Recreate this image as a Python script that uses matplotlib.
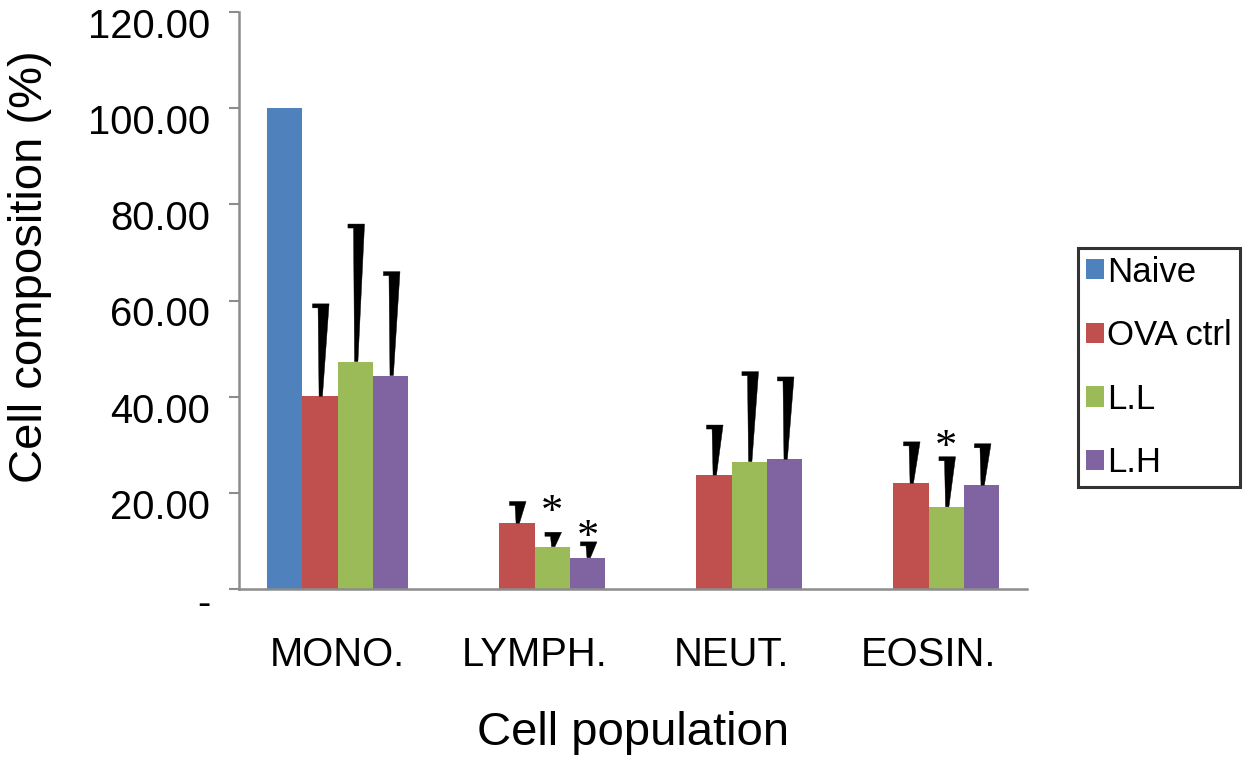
import matplotlib
matplotlib.use('Agg')
import matplotlib.pyplot as plt
from matplotlib.patches import Polygon
from matplotlib.transforms import ScaledTranslation, offset_copy
import numpy as np

# --- data ---
categories = ['MONO.', 'LYMPH.', 'NEUT.', 'EOSIN.']
groups = ['Naive', 'OVA ctrl', 'L.L', 'L.H']
colors = ['#4F81BD', '#C0504D', '#9BBB59', '#8064A2']

naive = [100.0, 0.0, 0.0, 0.0]
ova_ctrl = [40.1, 13.7, 23.7, 22.0]
ll = [47.3, 8.8, 26.5, 17.1]
lh = [44.4, 6.5, 27.0, 21.6]

naive_err = [0.0, 0.0, 0.0, 0.0]
ova_ctrl_err = [19.2, 4.5, 10.4, 8.6]
ll_err = [28.6, 3.0, 18.7, 10.4]
lh_err = [21.6, 3.3, 17.1, 8.6]

# significance marks: (category index, group index, y of star centre)
star_cat = [1, 1, 3]
star_grp = [2, 3, 2]
star_y = [17.1, 11.9, 30.6]

yticks = [0, 20, 40, 60, 80, 100, 120]
ytick_labels = ['-', '20.00', '40.00', '60.00', '80.00', '100.00', '120.00']

plt.rcParams['font.family'] = ['Liberation Sans', 'DejaVu Sans']

W, H = 1243, 758
fig = plt.figure(figsize=(W / 100, H / 100), dpi=100)
ax = fig.add_axes([239 / W, 1 - 589 / H, (1027 - 239) / W, (589 - 12) / H])

values = [naive, ova_ctrl, ll, lh]
errors = [naive_err, ova_ctrl_err, ll_err, lh_err]
x = np.arange(len(categories))
bw = 0.18

ax.set_xlim(-0.5, len(categories) - 0.5)
ax.set_ylim(0, 120)

# pixel -> data unit conversions (for the wedge-shaped error bars)
ux = len(categories) / (1027 - 239)
uy = 120 / (589 - 12)

for g, (vals, errs) in enumerate(zip(values, errors)):
    xs = x + (g - 1.5) * bw
    ax.bar(xs, vals, width=bw, color=colors[g], label=groups[g], zorder=2)
    for xi, v, e in zip(xs, vals, errs):
        if e <= 0:
            continue
        top = v + e
        # Excel-style tapered error bar with a cap pointing left
        pts = [(xi - 0.7 * ux, v), (xi + 2.7 * ux, v), (xi + 9.3 * ux, top),
               (xi - 7.3 * ux, top), (xi - 7.3 * ux, top - 4 * uy),
               (xi - 1.7 * ux, top - 4 * uy)]
        ax.add_patch(Polygon(pts, closed=True, facecolor='black',
                             edgecolor='black', linewidth=0.3, zorder=3))

# asterisks: baseline shifted so that the glyph centre sits at star_y
star_size = 32
star_tr = offset_copy(ax.transData, fig=fig, y=-0.39 * star_size, units='points')
for c, g, sy in zip(star_cat, star_grp, star_y):
    ax.text(x[c] + (g - 1.5) * bw, sy, '*', ha='center', va='baseline',
            fontsize=star_size, family='Liberation Serif', zorder=4,
            transform=star_tr)

# axes styling
for s in ['top', 'right']:
    ax.spines[s].set_visible(False)
for s in ['left', 'bottom']:
    ax.spines[s].set_color('#8c8c8c')
    ax.spines[s].set_linewidth(1.8)

ax.set_yticks(yticks)
ax.set_yticklabels(ytick_labels)
ax.tick_params(axis='y', direction='out', length=7.2, width=1.5,
               color='#8c8c8c', labelsize=28.8, pad=13.5)
# Excel puts the value labels a bit below their tick marks
shift = ScaledTranslation(0, -11 / 100, fig.dpi_scale_trans)
for t in ax.yaxis.get_major_ticks():
    t.label1.set_transform(t.label1.get_transform() + shift)

ax.set_xticks(x)
ax.set_xticklabels(categories)
ax.tick_params(axis='x', length=0, labelsize=28.8, pad=34)

ax.set_ylabel('Cell composition (%)', fontsize=34, va='center')
ax.yaxis.set_label_coords(-0.265, (589 - 267) / (589 - 12))
ax.set_xlabel('Cell population', fontsize=34, va='top')
ax.xaxis.set_label_coords(0.5, (589 - 711) / (589 - 12))

leg = ax.legend(loc='upper left', bbox_to_anchor=(1078 / W, 1 - 248 / H),
                bbox_transform=fig.transFigure, borderaxespad=0,
                fontsize=25, frameon=True, fancybox=False,
                handlelength=0.52, handleheight=0.52, handletextpad=0.1,
                labelspacing=0.88, borderpad=0.22)
leg.get_frame().set_edgecolor('black')
leg.get_frame().set_linewidth(2.2)

fig.savefig('out.png', dpi=100)
